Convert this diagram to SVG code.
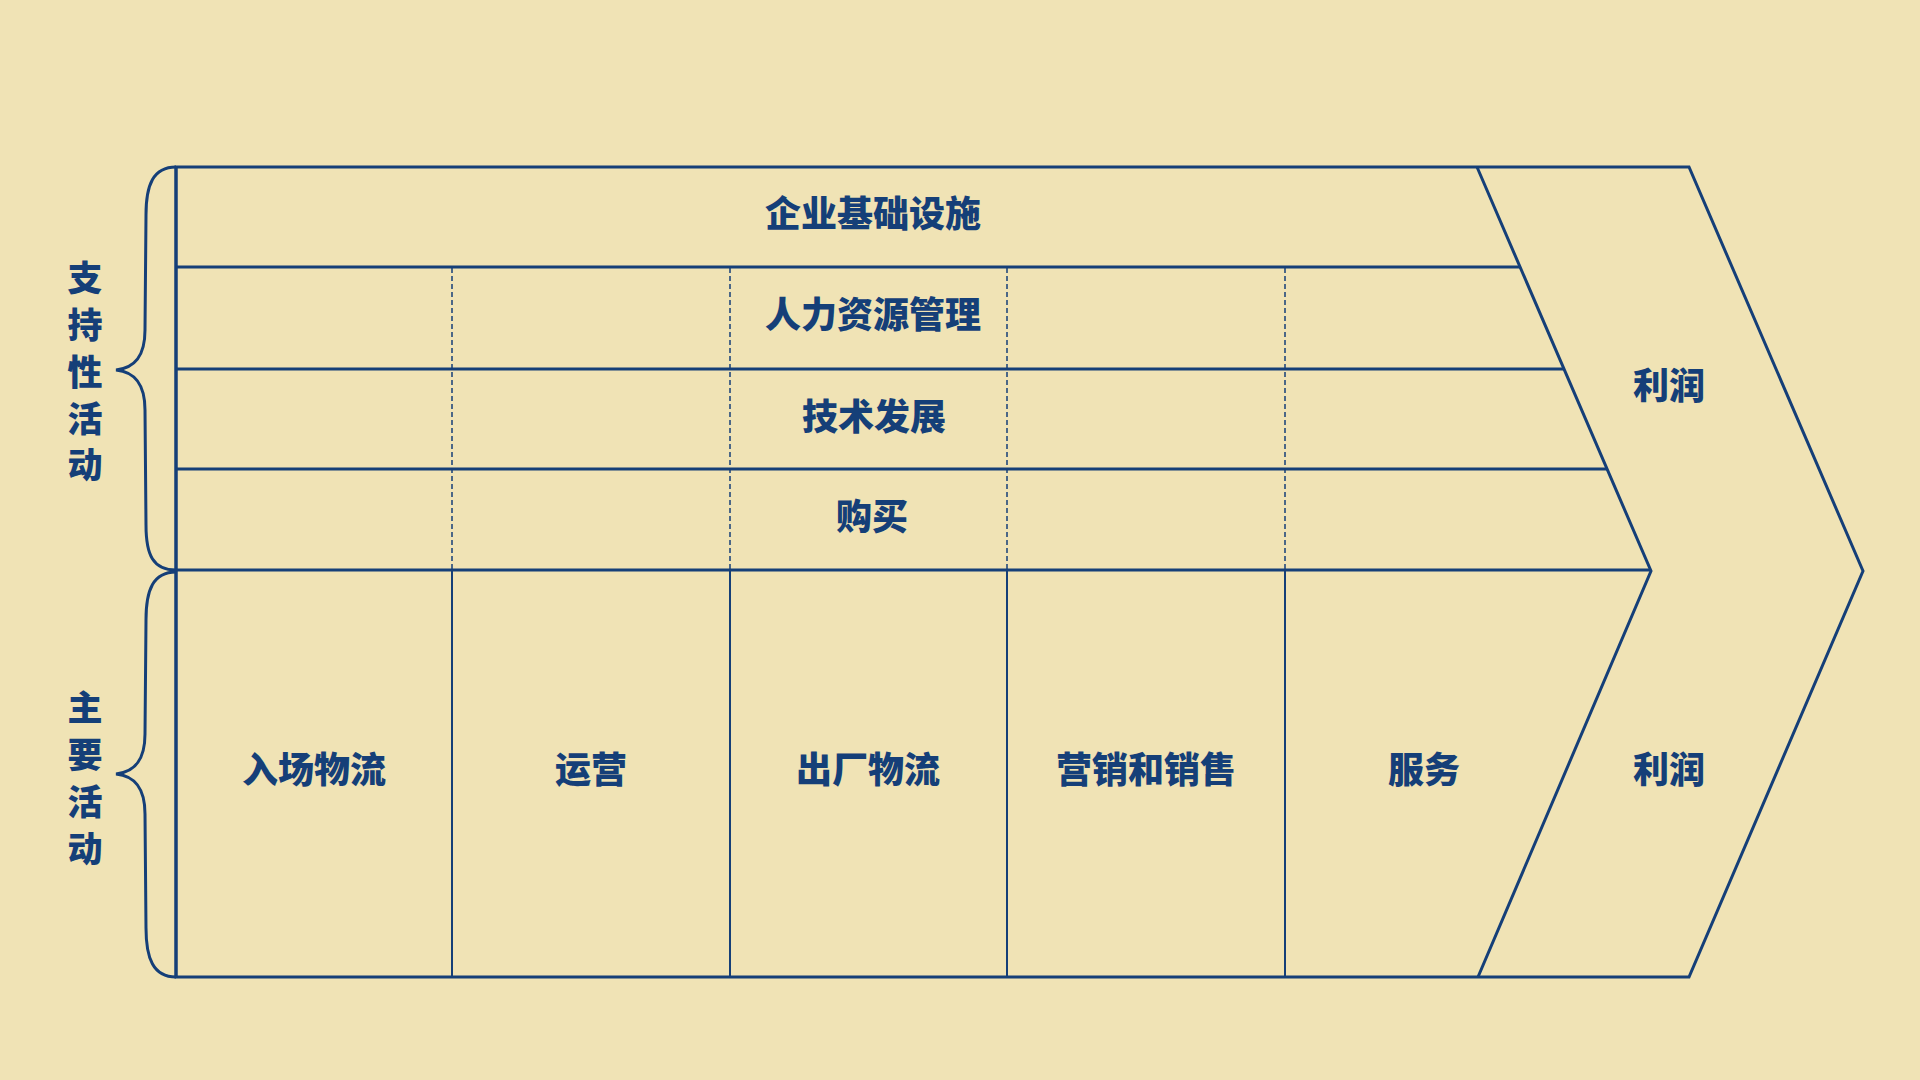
<svg xmlns="http://www.w3.org/2000/svg" width="1920" height="1080" viewBox="0 0 1920 1080">
<style>
.bg{fill:#F0E3B5}
.ln{stroke:#153F78;fill:none;stroke-linejoin:miter}
.thick{stroke-width:3}
.mid{stroke-width:2}
.dash{stroke-width:1.5;stroke-dasharray:5 3}
.t{font-family:"Noto Sans CJK SC","Microsoft YaHei",sans-serif;font-weight:900;fill:#153F78;text-anchor:middle;dominant-baseline:central;font-size:36px}
.side{font-size:35px}
</style>
<rect class="bg" x="0" y="0" width="1920" height="1080"/>
<g id="connectors">
  <path class="ln thick" d="M176,167 L1689,167 L1863,571 L1689,977 L176,977 Z"/>
  <line class="ln thick" x1="176" y1="167" x2="176" y2="977"/>
  <path class="ln thick" d="M1477,167 L1651,571 L1478,977"/>
  <line class="ln thick" x1="176" y1="267" x2="1520" y2="267"/>
  <line class="ln thick" x1="176" y1="369" x2="1564" y2="369"/>
  <line class="ln thick" x1="176" y1="469" x2="1607" y2="469"/>
  <line class="ln thick" x1="176" y1="570" x2="1651" y2="570"/>
  <line class="ln dash" x1="452" y1="268" x2="452" y2="569"/>
  <line class="ln dash" x1="730" y1="268" x2="730" y2="569"/>
  <line class="ln dash" x1="1007" y1="268" x2="1007" y2="569"/>
  <line class="ln dash" x1="1285" y1="268" x2="1285" y2="569"/>
  <line class="ln mid" x1="452" y1="570" x2="452" y2="977"/>
  <line class="ln mid" x1="730" y1="570" x2="730" y2="977"/>
  <line class="ln mid" x1="1007" y1="570" x2="1007" y2="977"/>
  <line class="ln mid" x1="1285" y1="570" x2="1285" y2="977"/>
  <path class="ln thick" d="M176,167 C153,167 146,185 146,215 L145,330 C145,356 135,368 116,370 C135,372 145,384 145,410 L146,525 C146,555 153,570 176,570"/>
  <path class="ln thick" d="M176,572 C153,572 146,590 146,620 L145,734 C145,760 135,772 116,774 C135,776 145,788 145,814 L146,928 C146,958 153,977 176,977"/>
</g>
<g id="label-support">
  <text class="t side" x="85" y="275">支</text>
  <text class="t side" x="85" y="322">持</text>
  <text class="t side" x="85" y="369">性</text>
  <text class="t side" x="85" y="416">活</text>
  <text class="t side" x="85" y="462">动</text>
</g>
<g id="label-primary">
  <text class="t side" x="85" y="705">主</text>
  <text class="t side" x="85" y="752">要</text>
  <text class="t side" x="85" y="799">活</text>
  <text class="t side" x="85" y="846">动</text>
</g>
<g id="node-infrastructure"><text class="t" x="873" y="211">企业基础设施</text></g>
<g id="node-hr"><text class="t" x="873" y="312">人力资源管理</text></g>
<g id="node-tech"><text class="t" x="874" y="414">技术发展</text></g>
<g id="node-procurement"><text class="t" x="872" y="514">购买</text></g>
<g id="node-inbound"><text class="t" x="314" y="767">入场物流</text></g>
<g id="node-operations"><text class="t" x="591" y="767">运营</text></g>
<g id="node-outbound"><text class="t" x="868" y="767">出厂物流</text></g>
<g id="node-marketing"><text class="t" x="1146" y="767">营销和销售</text></g>
<g id="node-service"><text class="t" x="1424" y="767">服务</text></g>
<g id="node-margin-top"><text class="t" x="1669" y="383">利润</text></g>
<g id="node-margin-bottom"><text class="t" x="1669" y="767">利润</text></g>
</svg>
